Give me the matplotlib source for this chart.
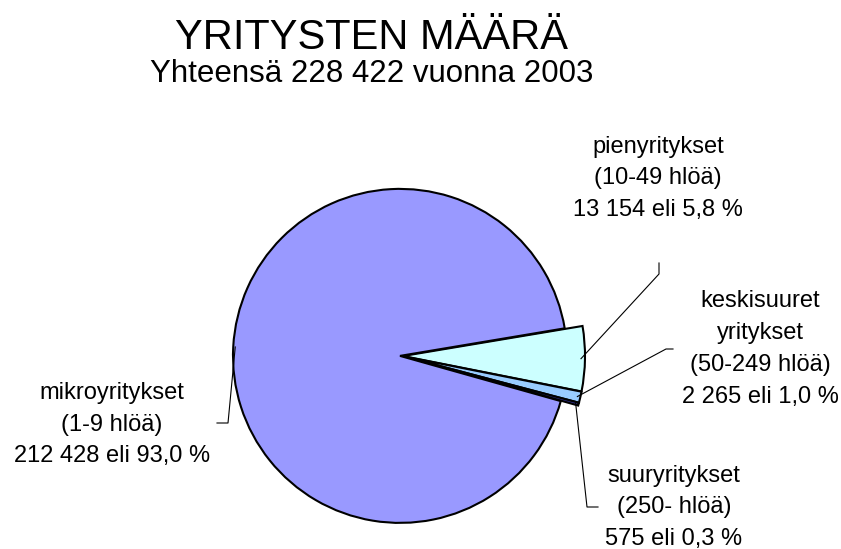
import numpy as np
import matplotlib
matplotlib.use("Agg")
import matplotlib.pyplot as plt

plt.rcParams["font.family"] = ["Liberation Sans", "DejaVu Sans"]

# data
names = [["pienyritykset", "(10-49 hlöä)"],
         ["keskisuuret", "yritykset", "(50-249 hlöä)"],
         ["suuryritykset", "(250- hlöä)"],
         ["mikroyritykset", "(1-9 hlöä)"]]
counts = [13154, 2265, 575, 212428]
colors = ["#CCFFFF", "#99CCFF", "#333399", "#9999FF"]
title = "YRITYSTEN MÄÄRÄ"
year = 2003

W, H = 841, 549


def Y(y):
    # pixel row -> data y
    return H - y


def fmt_int(n):
    return f"{n:,}".replace(",", " ")


total = sum(counts)
pcts = [100 * c / total for c in counts]

fig = plt.figure(figsize=(W / 100, H / 100), dpi=100)
ax = fig.add_axes([0, 0, 1, 1])

cx, cy = 402, 356
wedges, _ = ax.pie(counts, colors=colors, startangle=9.5, counterclock=False,
                   center=(cx, Y(cy)), radius=167, explode=[1, 1, 1, 2],
                   wedgeprops=dict(edgecolor="black", linewidth=1.5))
for w in wedges[:3]:
    w.set_radius(182)

ax.set_xlim(0, W)
ax.set_ylim(0, H)
ax.set_aspect("auto")
ax.axis("off")

# titles
ax.text(372, Y(49), title, fontsize=30, ha="center", va="baseline")
ax.text(372, Y(82), f"Yhteensä {fmt_int(total)} vuonna {year}", fontsize=22.5,
        ha="center", va="baseline")

# label layout: (center x, first baseline, line step), leader elbow points, start radius
layout = [
    (658, 153, 31.3, [(659, 274), (659, 263)], 180),
    (760, 307, 32.0, [(666, 349), (673, 349)], 181),
    (674, 482, 31.5, [(587, 507), (598, 507)], 181),
    (112, 399, 31.5, [(228, 423), (217, 423)], 167),
]

for w, nm, c, p, (lx, ly, step, elbow, r0) in zip(wedges, names, counts, pcts, layout):
    lines = nm + [f"{fmt_int(c)} eli {p:.1f} %".replace(".", ",")]
    for i, line in enumerate(lines):
        ax.text(lx, Y(ly + i * step), line, fontsize=17, ha="center", va="baseline")
    ang = np.deg2rad(0.5 * (w.theta1 + w.theta2))
    wx, wy = w.center
    xs = [wx + (r0 - 2) * np.cos(ang)] + [e[0] for e in elbow]
    ys = [wy + (r0 - 2) * np.sin(ang)] + [Y(e[1]) for e in elbow]
    ax.plot(xs, ys, color="black", linewidth=0.8)

fig.savefig("out.png", dpi=100)
